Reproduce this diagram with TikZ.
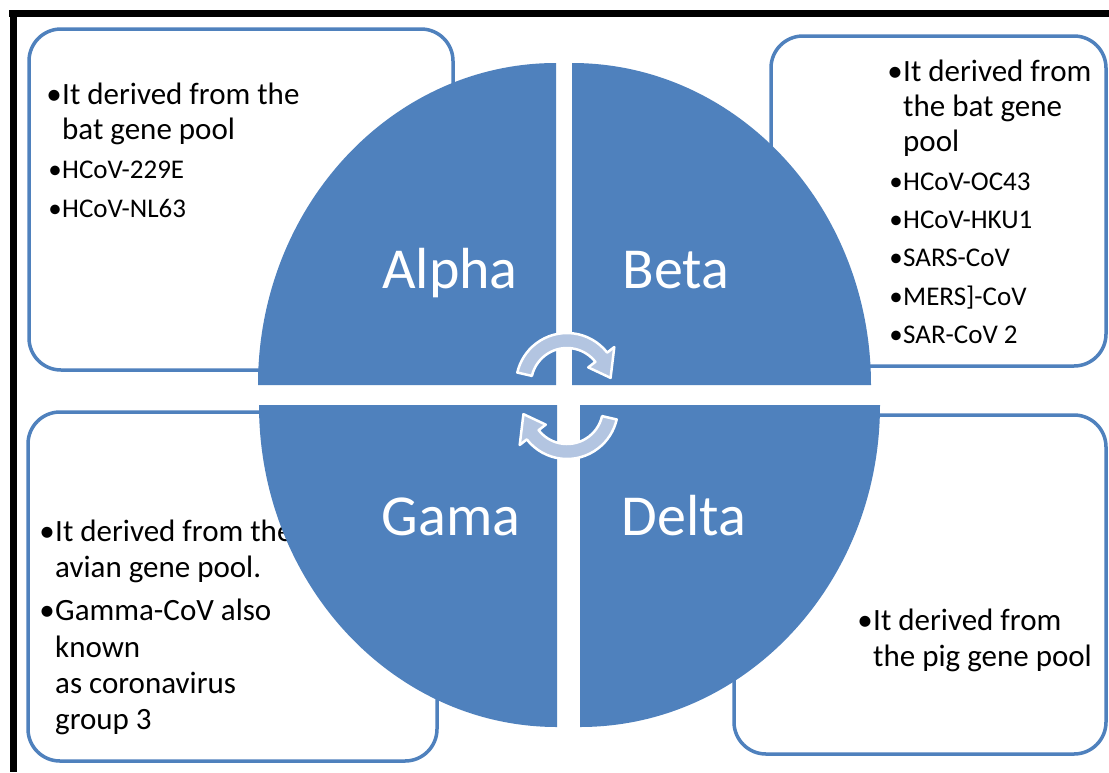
\documentclass[tikz,border=0pt]{standalone}
\usepackage{fontspec}
\setmainfont{Carlito}
\usetikzlibrary{calc}
\definecolor{qblue}{HTML}{4F81BD}
\definecolor{arrfill}{HTML}{B3C5E1}
\tikzset{
  boxframe/.style={draw=qblue, line width=3.5pt, rounded corners=32pt, fill=white},
  quad/.style={fill=qblue},
  bigtxt/.style={anchor=base west, inner sep=0pt, font=\fontsize{31}{36}\selectfont},
  smalltxt/.style={anchor=base west, inner sep=0pt, font=\fontsize{27}{32}\selectfont},
  bigbul/.style={anchor=base east, inner sep=0pt, font=\fontsize{31}{36}\selectfont},
  smallbul/.style={anchor=base east, inner sep=0pt, font=\fontsize{27}{32}\selectfont},
  lbl/.style={anchor=base, inner sep=0pt, text=white, font=\fontsize{58}{60}\selectfont},
  cyclearrow/.style={fill=arrfill, draw=white, line width=2.5pt, line join=round},
  frameline/.style={draw=black, line width=7pt}
}
\begin{document}
\begin{tikzpicture}[x=1pt,y=-1pt]
\useasboundingbox (0,0) rectangle (1109,772);
\fill[white] (0,0) rectangle (1109,772);
% frame
\draw[frameline] (9,13.5) -- (1109,13.5);
\draw[frameline] (13,10) -- (13,772);
% boxes
\draw[boxframe] (29,29) rectangle (453,370);
\draw[boxframe] (771,36) rectangle (1106,366);
\draw[boxframe] (28,412) rectangle (437,761);
\draw[boxframe] (734,415) rectangle (1106,754);
% Alpha text
\node[bigbul] (ab1) at (62,104) {•};
\node[bigtxt] (at1) at (62,104) {It derived from the};
\node[bigtxt] (at2) at (62,139) {bat gene pool};
\node[smallbul] (ab3) at (62,178) {•};
\node[smalltxt] (at3) at (62,178) {HCoV-229E};
\node[smallbul] (ab4) at (62,217) {•};
\node[smalltxt] (at4) at (62,217) {HCoV-NL63};
% Beta text
\node[bigbul] (bb1) at (903,81) {•};
\node[bigtxt] (bt1) at (903,81) {It derived from};
\node[bigtxt] (bt2) at (903,116) {the bat gene};
\node[bigtxt] (bt3) at (903,151) {pool};
\node[smallbul] (bb4) at (903,190) {•};
\node[smalltxt] (bt4) at (903,190) {HCoV-OC43};
\node[smallbul] (bb5) at (903,228) {•};
\node[smalltxt] (bt5) at (903,228) {HCoV-HKU1};
\node[smallbul] (bb6) at (903,266) {•};
\node[smalltxt] (bt6) at (903,266) {SARS-CoV};
\node[smallbul] (bb7) at (903,305) {•};
\node[smalltxt] (bt7) at (903,305) {MERS]-CoV};
\node[smallbul] (bb8) at (903,343) {•};
\node[smalltxt] (bt8) at (903,343) {SAR-CoV 2};
% Gamma text
\node[bigbul] (gb1) at (55,541) {•};
\node[bigtxt] (gt1) at (55,541) {It derived from the};
\node[bigtxt] (gt2) at (55,577) {avian gene pool.};
\node[bigbul] (gb3) at (55,620) {•};
\node[bigtxt] (gt3) at (55,620) {Gamma-CoV also};
\node[bigtxt] (gt4) at (55,657) {known};
\node[bigtxt] (gt5) at (55,693) {as coronavirus};
\node[bigtxt] (gt6) at (55,729) {group 3};
% Delta text
\node[bigbul] (db1) at (873,630) {•};
\node[bigtxt] (dt1) at (873,630) {It derived from};
\node[bigtxt] (dt2) at (873,666) {the pig gene pool};
% quadrants
\fill[quad] (556,385) -- (258,385) arc[start angle=180, end angle=270, x radius=298, y radius=322] -- cycle;
\fill[quad] (572,385) -- (572,63) arc[start angle=270, end angle=360, x radius=299, y radius=322] -- cycle;
\fill[quad] (557,405) -- (259,405) arc[start angle=180, end angle=90, x radius=298, y radius=322] -- cycle;
\fill[quad] (580,405) -- (880,405) arc[start angle=0, end angle=90, x radius=300, y radius=322] -- cycle;
% labels
\node[lbl] (alpha) at (450,288) {Alpha};
\node[lbl] (beta) at (676,288) {Beta};
\node[lbl] (gama) at (451,535) {Gama};
\node[lbl] (delta) at (684,535) {Delta};
% cycle arrows
\coordinate (c1) at (567,384);
\coordinate (c2) at (567,408);
\filldraw[cyclearrow] ($(c1)+(193:36)$) arc[start angle=193, end angle=322, radius=36]
  -- ($(c1)+(322:27)$) -- ($(c1)+(352:44)$) -- ($(c1)+(322:60)$) -- ($(c1)+(322:51)$)
  arc[start angle=322, end angle=193, radius=51] -- cycle;
\filldraw[cyclearrow] ($(c2)+(13:36)$) arc[start angle=13, end angle=142, radius=36]
  -- ($(c2)+(142:27)$) -- ($(c2)+(172:44)$) -- ($(c2)+(142:60)$) -- ($(c2)+(142:51)$)
  arc[start angle=142, end angle=13, radius=51] -- cycle;
\end{tikzpicture}
\end{document}
